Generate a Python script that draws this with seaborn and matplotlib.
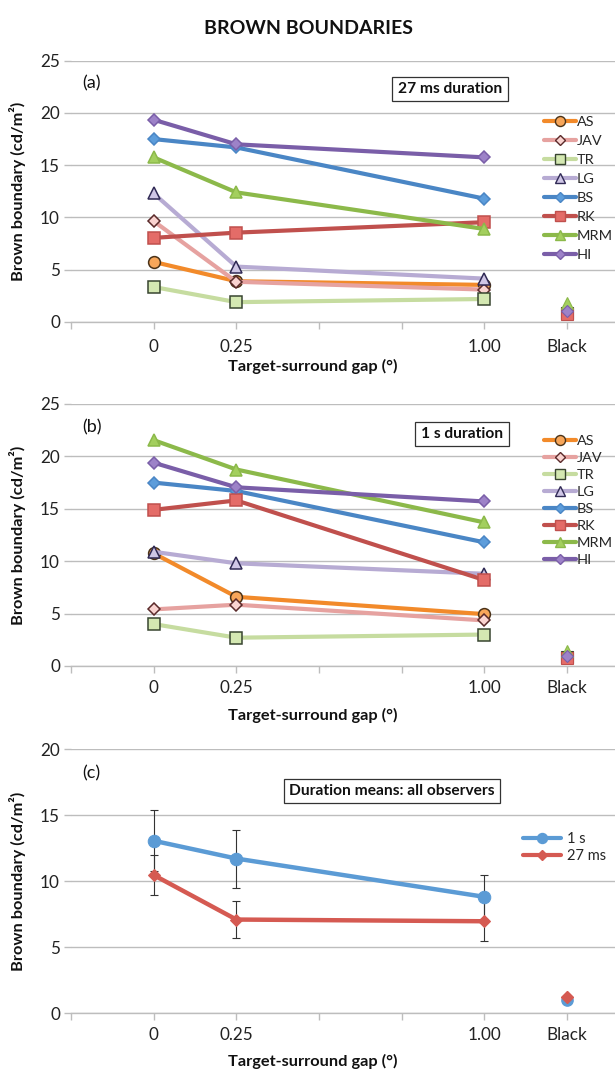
import numpy as np
import pandas as pd
import matplotlib
matplotlib.use("Agg")
import matplotlib.pyplot as plt
from matplotlib.lines import Line2D
import seaborn as sns

sns.set_theme(style="white")
plt.rcParams['font.family'] = ['Lato', 'DejaVu Sans']

# ---------------- data ----------------
gaps = [0.0, 0.25, 1.00]
black_pos = 1.25
xtick_vals = [0.0, 0.25, 0.5, 0.75, 1.0, 1.25]
xtick_labels = ["0", "0.25", "", "", "1.00", "Black"]
observers = ["AS", "JAV", "TR", "LG", "BS", "RK", "MRM", "HI"]

# Panel (a): 27 ms duration
a_AS = [5.75, 3.9, 3.55]
a_JAV = [9.65, 3.85, 3.1]
a_TR = [3.35, 1.9, 2.2]
a_LG = [12.3, 5.3, 4.15]
a_BS = [17.5, 16.7, 11.8]
a_RK = [8.05, 8.55, 9.55]
a_MRM = [15.75, 12.4, 8.9]
a_HI = [19.35, 17.0, 15.75]
a_black = [0.8, 0.9, 0.9, 1.3, 1.0, 0.8, 1.8, 1.1]

# Panel (b): 1 s duration
b_AS = [10.75, 6.6, 4.95]
b_JAV = [5.4, 5.85, 4.35]
b_TR = [4.0, 2.7, 3.0]
b_LG = [10.9, 9.8, 8.8]
b_BS = [17.5, 16.7, 11.8]
b_RK = [14.9, 15.8, 8.2]
b_MRM = [21.55, 18.75, 13.7]
b_HI = [19.4, 17.05, 15.7]
b_black = [0.8, 0.9, 0.9, 1.2, 1.0, 0.8, 1.4, 1.0]

# Panel (c): duration means
c_1s = [13.05, 11.7, 8.8]
c_1s_err = [2.3, 2.2, 1.65]
c_27 = [10.45, 7.08, 6.95]
c_27_err = [1.5, 1.38, 1.5]
c_black = [1.0, 1.25]
c_series = ["1 s", "27 ms"]

# ---------------- styles ----------------
styles = {
    "AS":  dict(color="#F28A2A", marker="o", mfc="#F7A65A", mec="#4a3218", ms=8.5),
    "JAV": dict(color="#E6A2A0", marker="D", mfc="#F9D3D0", mec="#5a2a2a", ms=6.5),
    "TR":  dict(color="#C6DCA0", marker="s", mfc="#D4E8B2", mec="#384530", ms=8.5),
    "LG":  dict(color="#B7ABD3", marker="^", mfc="#CFC6E6", mec="#302a55", ms=9),
    "BS":  dict(color="#4A86C5", marker="D", mfc="#5D9DDB", mec="#4A86C5", ms=6.5),
    "RK":  dict(color="#C0504D", marker="s", mfc="#E46C68", mec="#C0504D", ms=8.5),
    "MRM": dict(color="#8CB94A", marker="^", mfc="#A3CF5E", mec="#8CB94A", ms=9),
    "HI":  dict(color="#7A5EA8", marker="D", mfc="#9D82C8", mec="#7A5EA8", ms=6.5),
}
c_styles = {
    "1 s": dict(color="#5B9BD5", marker="o", mfc="#5B9BD5", mec="#5B9BD5", ms=9),
    "27 ms": dict(color="#D55A52", marker="D", mfc="#D55A52", mec="#D55A52", ms=6.5),
}

W, H = 615, 1075
fig = plt.figure(figsize=(W / 100, H / 100), dpi=100)

left = 71 / W
width = 1 - left
def ax_rect(top_px, bot_px):
    return [left, 1 - bot_px / H, width, (bot_px - top_px) / H]

ax_a = fig.add_axes(ax_rect(60.7, 322))
ax_b = fig.add_axes(ax_rect(404, 666))
ax_c = fig.add_axes(ax_rect(749, 1013))

grid_col = "#BDBDBD"
TICK_FS = 12.3
LABEL_FS = 11.8

def style_axis(ax, ymax, xlab_px, xpad):
    ax.set_xlim(-0.25, 1.395)
    ax.set_ylim(0, ymax)
    ax.set_yticks(np.arange(0, ymax + 0.1, 5))
    ax.set_yticklabels([f"{int(v)}" for v in np.arange(0, ymax + 0.1, 5)])
    ax.set_xticks(xtick_vals)
    ax.set_xticklabels(xtick_labels)
    ax.set_xticks([-0.25], minor=True)
    for s in ["top", "right", "left"]:
        ax.spines[s].set_visible(False)
    ax.spines["bottom"].set_color(grid_col)
    ax.spines["bottom"].set_linewidth(1.0)
    ax.grid(axis="y", color=grid_col, linewidth=1.0)
    ax.set_axisbelow(True)
    ax.tick_params(axis="both", which="both", direction="out", length=5,
                   color=grid_col, width=1.0, labelsize=TICK_FS, labelcolor="#222222")
    ax.tick_params(axis="x", which="both", bottom=True, pad=xpad)
    ax.tick_params(axis="y", left=True, pad=3)
    ax.set_xlabel("Target-surround gap (°)", fontsize=LABEL_FS, fontweight="bold", color="#111111")
    ax.set_ylabel("Brown boundary (cd/m²)", fontsize=LABEL_FS, fontweight="bold", color="#111111")
    bbox = ax.get_position()
    ax.yaxis.set_label_coords(-(71 - 26) / (bbox.width * W), 0.5)
    ax.xaxis.set_label_coords((313 - 71) / (bbox.width * W), -xlab_px / (bbox.height * H))


def draw_observers(ax, series, blacks):
    for name, vals in zip(observers, series):
        st = styles[name]
        df = pd.DataFrame({"gap": gaps, "value": vals})
        sns.lineplot(data=df, x="gap", y="value", ax=ax, color=st["color"],
                     linewidth=3.0, marker=st["marker"], markersize=st["ms"],
                     markerfacecolor=st["mfc"], markeredgecolor=st["mec"],
                     markeredgewidth=1.1, legend=False, zorder=3)
    for name, bv in zip(observers, blacks):
        st = styles[name]
        ax.plot([black_pos], [bv], linestyle="none", marker=st["marker"],
                markersize=st["ms"], markerfacecolor=st["mfc"],
                markeredgecolor=st["mec"], markeredgewidth=0.8, zorder=3)


def observer_legend(top_px, spacing):
    handles = []
    for name in observers:
        st = styles[name]
        handles.append(Line2D([0], [0], color=st["color"], linewidth=3.0,
                              marker=st["marker"], markersize=st["ms"] * 0.85,
                              markerfacecolor=st["mfc"], markeredgecolor=st["mec"],
                              markeredgewidth=1.0))
    fig.legend(handles, observers, loc="upper left",
               bbox_to_anchor=(544 / W, 1 - top_px / H),
               frameon=False, fontsize=10.4, handlelength=2.2,
               handletextpad=0.05, labelspacing=spacing, borderpad=0,
               borderaxespad=0)


def panel_text(label, lab_y, box_text, box_x, box_y):
    fig.text(82 / W, 1 - lab_y / H, label, fontsize=13, va="center", ha="left",
             color="#111111")
    fig.text(box_x / W, 1 - box_y / H, box_text, fontsize=11.2, fontweight="bold",
             va="center", ha="center", color="#111111",
             bbox=dict(boxstyle="square,pad=0.35", fc="white", ec="#333333", lw=0.9))


# ---------------- panel (a) ----------------
style_axis(ax_a, 25, 37, 7)
draw_observers(ax_a, [a_AS, a_JAV, a_TR, a_LG, a_BS, a_RK, a_MRM, a_HI], a_black)
observer_legend(116, 0.48)
panel_text("(a)", 83, "27 ms duration", 450, 89)

# ---------------- panel (b) ----------------
style_axis(ax_b, 25, 42, 5)
draw_observers(ax_b, [b_AS, b_JAV, b_TR, b_LG, b_BS, b_RK, b_MRM, b_HI], b_black)
observer_legend(435, 0.34)
panel_text("(b)", 427, "1 s duration", 462, 434)

# ---------------- panel (c) ----------------
style_axis(ax_c, 20, 41, 5)
for name, vals, errs in zip(c_series, [c_1s, c_27], [c_1s_err, c_27_err]):
    st = c_styles[name]
    df = pd.DataFrame({"gap": gaps, "value": vals})
    ax_c.errorbar(gaps, vals, yerr=errs, fmt="none", ecolor="#333333",
                  elinewidth=0.8, capsize=3, capthick=0.8, zorder=2)
    sns.lineplot(data=df, x="gap", y="value", ax=ax_c, color=st["color"],
                 linewidth=3.2, marker=st["marker"], markersize=st["ms"],
                 markerfacecolor=st["mfc"], markeredgecolor=st["mec"],
                 legend=False, zorder=3)
for name, bv in zip(c_series, c_black):
    st = c_styles[name]
    ax_c.plot([black_pos], [bv], linestyle="none", marker=st["marker"],
              markersize=st["ms"] * 0.9, markerfacecolor=st["mfc"],
              markeredgecolor=st["mec"], zorder=3)
c_handles = [Line2D([0], [0], color=c_styles[n]["color"], linewidth=3.0,
                    marker=c_styles[n]["marker"], markersize=c_styles[n]["ms"] * 0.8,
                    markerfacecolor=c_styles[n]["mfc"], markeredgecolor=c_styles[n]["mec"])
             for n in c_series]
fig.legend(c_handles, c_series, loc="upper left", bbox_to_anchor=(523 / W, 1 - 832 / H),
           frameon=False, fontsize=10.5, handlelength=2.6, handletextpad=0.4,
           labelspacing=0.2, borderpad=0, borderaxespad=0)
panel_text("(c)", 773, "Duration means: all observers", 392, 791)

fig.text(308 / W, 1 - 28 / H, "BROWN BOUNDARIES", fontsize=14, fontweight="bold",
         ha="center", va="center", color="#111111")

fig.savefig("out.png", dpi=100)
